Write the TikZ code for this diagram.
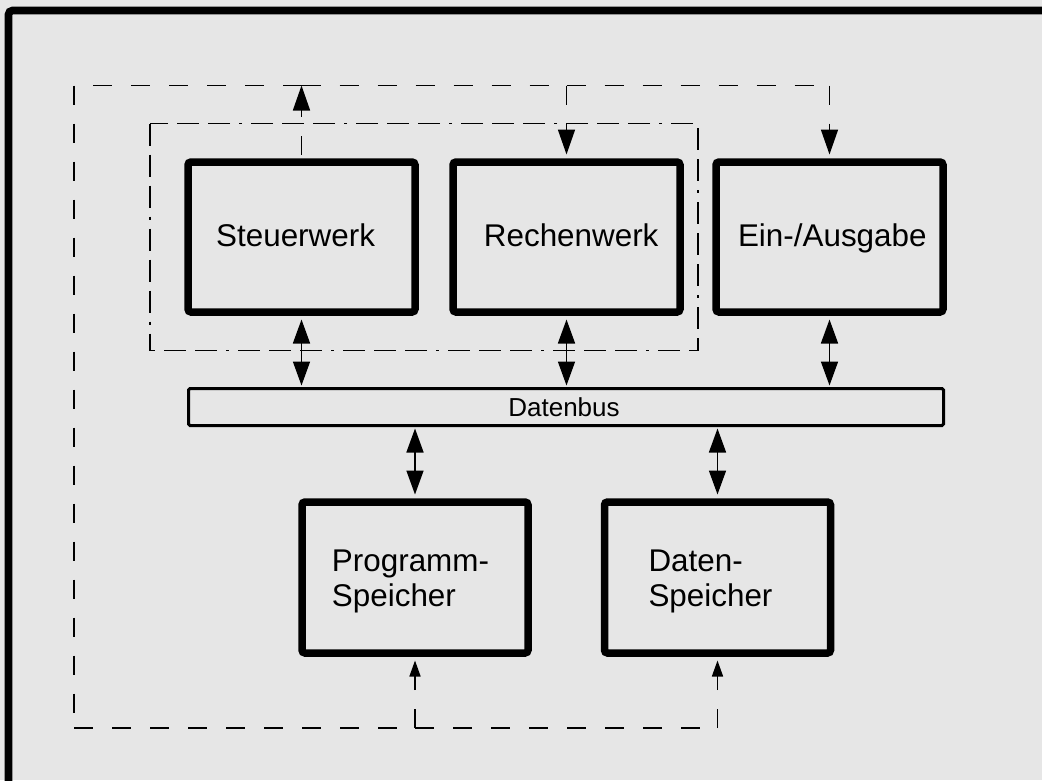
\documentclass[tikz,border=0pt]{standalone}
\usepackage{fontspec}
\setmainfont{Liberation Sans}
\usetikzlibrary{arrows.meta}

\definecolor{panel}{HTML}{E6E6E6}

\begin{document}
\begin{tikzpicture}[x=1pt,y=-1pt,
  unit/.style={draw, line width=7.5pt, rounded corners=3pt, fill=panel,
    minimum width=227pt, minimum height=150pt, inner sep=0pt},
  store/.style={unit, minimum width=226pt, minimum height=151pt},
  busbox/.style={draw, line width=3pt, rounded corners=1.5pt, fill=panel,
    minimum width=755pt, minimum height=37pt, inner sep=0pt},
  caption/.style={inner sep=0pt, font=\fontsize{31.4}{35}\selectfont, align=left},
  buscaption/.style={inner sep=0pt, font=\fontsize{26}{30}\selectfont},
  link/.style={line width=1.6pt},
  dataflow/.style={link,
    {Triangle[length=24pt,width=17pt]}-{Triangle[length=24pt,width=17pt]},
    shorten <=3.75pt, shorten >=1.5pt},
  ctrlline/.style={link, dash pattern=on 19pt off 19pt},
  ctrlarrow/.style={ctrlline, -{Triangle[length=25pt,width=17pt]}},
  ctrlsmall/.style={ctrlline, -{Triangle[length=16pt,width=11pt]}},
  cpuframe/.style={link, dash pattern=on 22pt off 9pt on 22pt off 9pt on 22pt off 9pt on 3pt off 9pt}
]
\useasboundingbox (0,0) rectangle (1042,780);
\clip (0,0) rectangle (1042,780);
\fill[panel] (0,0) rectangle (1042,780);
\draw[line width=7.6pt, rounded corners=4pt] (8.5,10.5) rectangle (1100,840);

% CPU boundary (control unit + ALU)
\draw[cpuframe] (150,123.5) rectangle (698,350.5);

% functional units
\node[unit] (stw) at (301.5,237) {};
\node[unit] (rw)  at (566.5,237) {};
\node[unit] (io)  at (829.5,237) {};
\node[busbox] (bus) at (566,407) {};
\node[store] (ps) at (415,577.5) {};
\node[store] (ds) at (717.5,577.5) {};

% captions
\node[caption, anchor=base] (stwtext) at (295.6,246.5) {Steuerwerk};
\node[caption, anchor=base] (rwtext)  at (571.2,246.5) {Rechenwerk};
\node[caption, anchor=base] (iotext)  at (832.3,246.5) {Ein-/Ausgabe};
\node[buscaption, anchor=base] (bustext) at (564,416.5) {Datenbus};
\node[caption, anchor=center] (pstext) at (410.5,581.5) {Programm-\\Speicher};
\node[caption, anchor=center] (dstext) at (710.5,581.5) {Daten-\\Speicher};

% data paths to and from the bus
\draw[dataflow] (stw.south) -- (stw.south |- bus.north);
\draw[dataflow] (rw.south)  -- (rw.south |- bus.north);
\draw[dataflow] (io.south)  -- (io.south |- bus.north);
\draw[dataflow] (ps.north)  -- (ps.north |- bus.south);
\draw[dataflow] (ds.north)  -- (ds.north |- bus.south);

% control lines
\coordinate (toprow) at (0,85.5);
\coordinate (botrow) at (0,728);
\coordinate (j1) at (stw.north |- toprow);
\coordinate (j3) at (rw.north |- toprow);
\coordinate (tr) at (io.north |- toprow);
\coordinate (tl) at (74,85.5);
\coordinate (bl) at (74,728);
\coordinate (j2) at (ps.south |- botrow);
\coordinate (br) at (ds.south |- botrow);

\draw[ctrlarrow, shorten <=3.75pt] (stw.north) -- (j1);
\draw[ctrlline] (j1) -- (tl);
\draw[ctrlline] (tl) -- (bl);
\draw[ctrlline] (bl) -- (j2);
\draw[ctrlline] (j1) -- (j3);
\draw[ctrlline] (j3) -- (tr);
\draw[ctrlarrow, shorten >=3.75pt] (j3) -- (rw.north);
\draw[ctrlarrow, shorten >=3.75pt] (tr) -- (io.north);
\draw[ctrlline] (j2) -- (br);
\draw[ctrlsmall, shorten >=3.75pt] (j2) -- (ps.south);
\draw[ctrlsmall, shorten >=3.75pt] (br) -- (ds.south);
\end{tikzpicture}
\end{document}
